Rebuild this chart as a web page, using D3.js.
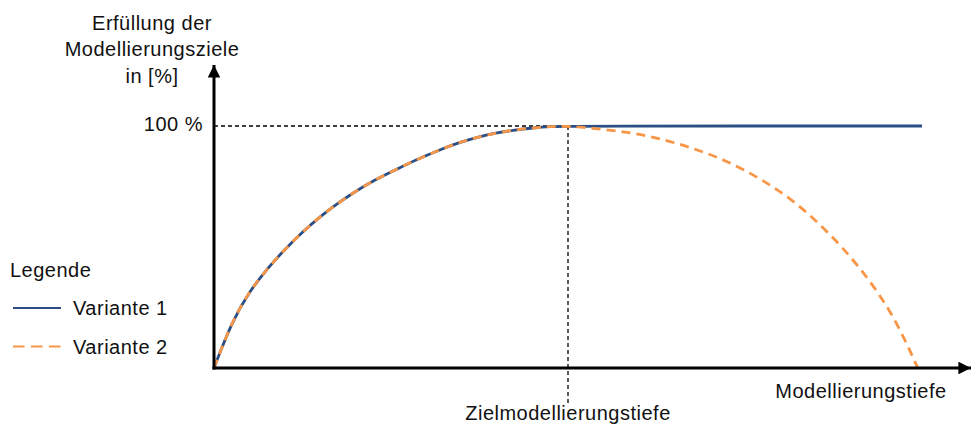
<!DOCTYPE html>
<html>
<head>
<meta charset="utf-8">
<script src="https://cdn.jsdelivr.net/npm/d3@7"></script>
<style>
  body { margin: 0; background: #fff; }
  svg { display: block; font-family: "Liberation Sans", Arial, sans-serif; }
  svg text { font-size: 20px; letter-spacing: 0.5px; fill: #111; }
</style>
</head>
<body>
<div class="chart-container"></div>
<script>
// Depth values (x) and fulfilment in % (y)
const riseDepth = [0, 0.25, 0.5, 0.75, 1, 1.25, 1.5, 1.75, 2, 2.25, 2.5, 2.75,
                   3, 3.25, 3.5, 3.75, 4, 4.25, 4.5, 4.75, 5];
const riseValue = [0, 19, 31.6, 41, 49, 56.2, 62.6, 68.1, 73, 77.4, 81, 84.6,
                   87.8, 90.9, 93.5, 95.6, 97.2, 98.4, 99.2, 99.8, 100];
const v1TailDepth = [10];
const v1TailValue = [100];
const v2TailDepth = [5.36, 5.83, 6.3, 6.77, 7.24, 7.71, 8.18, 8.65, 9.12, 9.59, 9.94];
const v2TailValue = [99, 97.6, 94.9, 90.8, 85.7, 78.4, 69.4, 57, 41.9, 22.6, 0];
const targetDepth = 5;
const yTickLabels = ["100 %"];
const legendLabels = ["Variante 1", "Variante 2"];

const zip = (xs, ys) => xs.map((x, i) => ({ x: x, y: ys[i] }));
const variant1 = zip(riseDepth.concat(v1TailDepth), riseValue.concat(v1TailValue));
const variant2 = zip(riseDepth.concat(v2TailDepth), riseValue.concat(v2TailValue));

const W = 971, H = 430;
const navy = "#2a4e85", orange = "#f79646";

const svg = d3.select(".chart-container")
    .append("svg")
        .attr("width", W)
        .attr("height", H);

// Scales: origin at (214, 368)
const xScale = d3.scaleLinear().domain([0, 10]).range([214, 922]);
const yScale = d3.scaleLinear().domain([0, 100]).range([368, 126]);

svg.append("defs").append("marker")
    .attr("id", "arrow")
    .attr("viewBox", "0 0 10 10")
    .attr("refX", 10).attr("refY", 5)
    .attr("markerWidth", 4.2).attr("markerHeight", 4.2)
    .attr("markerUnits", "strokeWidth")
    .attr("orient", "auto")
  .append("path")
    .attr("d", "M0,0L10,5L0,10Z")
    .attr("fill", "#000");

// Guide lines to the target depth
svg.append("line")
    .attr("x1", xScale(0)).attr("x2", xScale(targetDepth))
    .attr("y1", yScale(100)).attr("y2", yScale(100))
    .attr("stroke", "#000").attr("stroke-width", 1.3)
    .attr("stroke-dasharray", "4,3");
svg.append("line")
    .attr("x1", xScale(targetDepth)).attr("x2", xScale(targetDepth))
    .attr("y1", yScale(100)).attr("y2", 404)
    .attr("stroke", "#000").attr("stroke-width", 1.3)
    .attr("stroke-dasharray", "4,3");

// Curves (basis smooths out reading noise)
const line = d3.line()
    .x(d => xScale(d.x))
    .y(d => yScale(d.y))
    .curve(d3.curveBasis);

svg.append("path")
    .datum(variant1)
    .attr("d", line)
    .attr("fill", "none")
    .attr("stroke", navy)
    .attr("stroke-width", 2.8);

svg.append("path")
    .datum(variant2)
    .attr("d", line)
    .attr("fill", "none")
    .attr("stroke", orange)
    .attr("stroke-width", 2.8)
    .attr("stroke-dasharray", "9,6");

// Axes with arrow heads
svg.append("line")
    .attr("x1", xScale(0)).attr("y1", yScale(0) + 1.5)
    .attr("x2", xScale(0)).attr("y2", 65)
    .attr("stroke", "#000").attr("stroke-width", 3)
    .attr("marker-end", "url(#arrow)");
svg.append("line")
    .attr("x1", xScale(0) - 1.5).attr("y1", yScale(0))
    .attr("x2", 971).attr("y2", yScale(0))
    .attr("stroke", "#000").attr("stroke-width", 3)
    .attr("marker-end", "url(#arrow)");

// Texts
svg.append("text")
    .attr("x", xScale(0) - 11).attr("y", yScale(100) + 5)
    .attr("text-anchor", "end")
    .text(yTickLabels[0]);

svg.selectAll(".ytitle")
    .data(["Erfüllung der", "Modellierungsziele", "in [%]"])
    .join("text")
        .attr("class", "ytitle")
        .attr("x", 152)
        .attr("y", (d, i) => 29.5 + i * 26.5)
        .attr("text-anchor", "middle")
        .text(d => d);

svg.append("text")
    .attr("x", 861).attr("y", 398)
    .attr("text-anchor", "middle")
    .text("Modellierungstiefe");

svg.append("text")
    .attr("x", xScale(targetDepth)).attr("y", 420)
    .attr("text-anchor", "middle")
    .text("Zielmodellierungstiefe");

// Legend
svg.append("text")
    .attr("x", 10).attr("y", 277)
    .text("Legende");

const legend = svg.selectAll(".legend")
    .data(legendLabels)
    .join("g")
        .attr("class", "legend")
        .attr("transform", (d, i) => `translate(0, ${308 + i * 38.5})`);
legend.append("line")
    .attr("x1", 13).attr("x2", 61)
    .attr("stroke", (d, i) => i === 0 ? navy : orange)
    .attr("stroke-width", 2.2)
    .attr("stroke-dasharray", (d, i) => i === 0 ? null : "11.5,6.5");
legend.append("text")
    .attr("x", 73).attr("y", 7)
    .text(d => d);
</script>
</body>
</html>
